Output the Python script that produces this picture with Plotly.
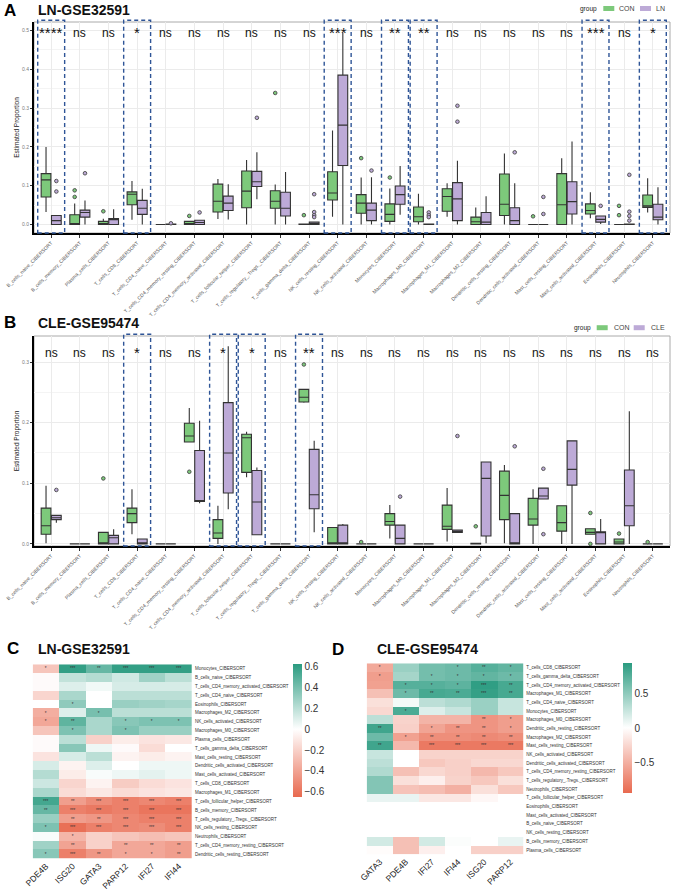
import plotly.graph_objects as go

W, H = 673, 890
FONT = "Liberation Sans, Arial, sans-serif"

# ---------------- data ----------------
CELLS = ["B_cells_naive", "B_cells_memory", "Plasma_cells", "T_cells_CD8", "T_cells_CD4_naive",
         "T_cells_CD4_memory_resting", "T_cells_CD4_memory_activated", "T_cells_follicular_helper",
         "T_cells_regulatory_.Tregs.", "T_cells_gamma_delta", "NK_cells_resting", "NK_cells_activated",
         "Monocytes", "Macrophages_M0", "Macrophages_M1", "Macrophages_M2", "Dendritic_cells_resting",
         "Dendritic_cells_activated", "Mast_cells_resting", "Mast_cells_activated", "Eosinophils",
         "Neutrophils"]
TICK_LABELS = [c + "_CIBERSORT" for c in CELLS]

# box statistics: [lowerfence, q1, median, q3, upperfence]
A_CON = [[0.032, 0.071, 0.115, 0.131, 0.200], [0.0, 0.0, 0.002, 0.025, 0.054], [0.0, 0.0, 0.002, 0.008, 0.015],
         [0.012, 0.051, 0.078, 0.084, 0.112], [0, 0, 0, 0, 0], [0.0, 0.0, 0.002, 0.008, 0.008],
         [0.014, 0.032, 0.060, 0.104, 0.117], [0.0, 0.043, 0.086, 0.138, 0.166], [0.0, 0.042, 0.060, 0.087, 0.103],
         [0, 0, 0, 0.001, 0.001], [0.020, 0.063, 0.081, 0.136, 0.242], [0.0, 0.029, 0.055, 0.077, 0.121],
         [0.0, 0.008, 0.026, 0.053, 0.093], [0.0, 0.007, 0.020, 0.045, 0.079], [0.020, 0.034, 0.072, 0.092, 0.106],
         [0.0, 0.0, 0.007, 0.019, 0.044], [0.0, 0.023, 0.052, 0.130, 0.183], [0, 0, 0, 0, 0],
         [0.0, 0.0, 0.051, 0.131, 0.171], [0.016, 0.027, 0.036, 0.053, 0.083], [0, 0, 0, 0, 0],
         [0.031, 0.044, 0.048, 0.076, 0.119]]
A_LN = [[0.0, 0.0, 0.010, 0.023, 0.023], [0.0, 0.019, 0.031, 0.037, 0.062], [0.0, 0.0, 0.013, 0.015, 0.039],
        [0.0, 0.026, 0.042, 0.062, 0.092], [0, 0, 0, 0.001, 0.001], [0.0, 0.0, 0.005, 0.011, 0.011],
        [0.013, 0.036, 0.055, 0.073, 0.104], [0.065, 0.098, 0.110, 0.137, 0.186], [0.0, 0.022, 0.042, 0.083, 0.135],
        [0.0, 0.0, 0.001, 0.006, 0.006], [0.0, 0.152, 0.256, 0.385, 0.494], [0.0, 0.010, 0.037, 0.055, 0.122],
        [0.025, 0.052, 0.077, 0.099, 0.151], [0, 0, 0, 0.001, 0.001], [0.0, 0.010, 0.066, 0.108, 0.164],
        [0.0, 0.0, 0.006, 0.031, 0.073], [0.0, 0.0, 0.010, 0.043, 0.106], [0, 0, 0, 0, 0],
        [0.0, 0.027, 0.059, 0.110, 0.214], [0.001, 0.006, 0.013, 0.022, 0.022], [0, 0, 0, 0.001, 0.001],
        [0.0, 0.012, 0.019, 0.052, 0.096]]
A_CON_OUT = {1: [0.088, 0.071], 2: [0.034], 5: [0.022], 8: [0.339], 9: [0.024], 11: [0.171],
             12: [0.121], 17: [0.021], 20: [0.048, 0.024]}
A_LN_OUT = {0: [0.112, 0.085], 1: [0.132], 4: [0.003], 5: [0.031], 7: [0.275], 9: [0.078, 0.032, 0.024, 0.019],
            11: [0.139], 13: [0.031, 0.024, 0.019], 14: [0.306, 0.265], 16: [0.186], 17: [0.071, 0.027],
            19: [0.048], 20: [0.128, 0.033, 0.022, 0.010]}
A_SIG = ["****", "ns", "ns", "*", "ns", "ns", "ns", "ns", "ns", "ns", "***", "ns", "**", "**", "ns", "ns",
         "ns", "ns", "ns", "***", "ns", "*"]

B_CON = [[0.001, 0.016, 0.030, 0.059, 0.096], [0, 0, 0, 0, 0], [0.0, 0.0, 0.001, 0.019, 0.019],
         [0.016, 0.035, 0.050, 0.059, 0.090], [0, 0, 0, 0, 0], [0.168, 0.168, 0.178, 0.199, 0.224],
         [0.0, 0.009, 0.018, 0.040, 0.063], [0.110, 0.118, 0.175, 0.181, 0.185], [0, 0, 0, 0, 0],
         [0.233, 0.234, 0.242, 0.255, 0.255], [0.0, 0.0, 0.0, 0.027, 0.027], [0, 0, 0, 0, 0],
         [0.009, 0.031, 0.037, 0.050, 0.064], [0, 0, 0, 0, 0], [0.004, 0.024, 0.029, 0.064, 0.092],
         [0, 0, 0, 0.001, 0.001], [0.001, 0.040, 0.080, 0.120, 0.130], [0.0, 0.031, 0.041, 0.075, 0.090],
         [0.0, 0.021, 0.035, 0.063, 0.063], [0.016, 0.016, 0.019, 0.025, 0.025], [0.0, 0.0, 0.003, 0.008, 0.008],
         [0, 0, 0, 0, 0]]
B_CLE = [[0.035, 0.040, 0.043, 0.047, 0.047], [0, 0, 0, 0, 0], [0.0, 0.0, 0.010, 0.014, 0.024],
         [0.0, 0.0, 0.001, 0.008, 0.008], [0, 0, 0, 0, 0], [0.067, 0.070, 0.070, 0.154, 0.203],
         [0.057, 0.084, 0.150, 0.233, 0.326], [0.015, 0.015, 0.069, 0.121, 0.126], [0, 0, 0, 0, 0],
         [0.019, 0.058, 0.081, 0.156, 0.170], [0.0, 0.0, 0.0, 0.031, 0.033], [0, 0, 0, 0, 0],
         [0.0, 0.0, 0.009, 0.031, 0.031], [0, 0, 0, 0, 0], [0.018, 0.019, 0.020, 0.023, 0.023],
         [0.001, 0.013, 0.108, 0.135, 0.135], [0.0, 0.0, 0.0, 0.050, 0.050], [0.074, 0.074, 0.079, 0.092, 0.092],
         [0.0, 0.097, 0.123, 0.170, 0.170], [0.0, 0.0, 0.019, 0.020, 0.041], [0.0, 0.030, 0.063, 0.122, 0.219],
         [0, 0, 0, 0, 0]]
B_CON_OUT = {2: [0.108], 5: [0.119], 9: [0.296], 11: [0.003], 15: [0.029], 19: [0.051, 0.0], 20: [0.017],
             21: [0.003]}
B_CLE_OUT = {0: [0.089], 12: [0.078], 14: [0.178], 16: [0.161], 17: [0.124, 0.016]}
B_SIG = ["ns", "ns", "ns", "*", "ns", "ns", "*", "*", "ns", "**", "ns", "ns", "ns", "ns", "ns", "ns",
         "ns", "ns", "ns", "ns", "ns", "ns"]

# heatmap C
C_GENES = ["PDE4B", "ISG20", "GATA3", "PARP12", "IFI27", "IFI44"]
C_ROWS = ["Monocytes", "B_cells_naive", "T_cells_CD4_memory_activated", "T_cells_CD4_naive", "Eosinophils",
          "Macrophages_M2", "NK_cells_activated", "Macrophages_M0", "Plasma_cells", "T_cells_gamma_delta",
          "Mast_cells_resting", "Dendritic_cells_activated", "Mast_cells_activated", "T_cells_CD8",
          "Macrophages_M1", "T_cells_follicular_helper", "B_cells_memory", "T_cells_regulatory_.Tregs.",
          "NK_cells_resting", "Neutrophils", "T_cells_CD4_memory_resting", "Dendritic_cells_resting"]
C_VALUES = [[-0.25, 0.60, 0.45, 0.60, 0.60, 0.60],
            [-0.02, 0.18, 0.22, 0.14, 0.28, 0.20],
            [-0.02, 0.10, 0.04, 0.12, 0.12, 0.12],
            [-0.18, 0.25, 0.00, 0.20, 0.20, 0.20],
            [0.00, 0.33, 0.00, 0.30, 0.28, 0.26],
            [-0.35, 0.10, 0.40, 0.20, 0.20, 0.20],
            [-0.38, 0.47, 0.25, 0.35, 0.38, 0.38],
            [-0.25, 0.38, 0.25, 0.38, 0.30, 0.30],
            [-0.02, 0.20, -0.20, -0.08, -0.12, -0.10],
            [-0.02, 0.35, 0.05, -0.02, -0.15, 0.00],
            [-0.12, 0.12, 0.20, -0.05, -0.08, -0.05],
            [0.12, -0.05, 0.10, 0.00, 0.05, 0.05],
            [0.22, -0.08, 0.02, 0.05, 0.08, 0.05],
            [0.15, -0.18, -0.05, -0.22, -0.15, -0.12],
            [0.25, -0.15, -0.10, -0.15, -0.12, -0.10],
            [0.55, -0.42, -0.50, -0.55, -0.52, -0.55],
            [0.45, -0.55, -0.58, -0.55, -0.60, -0.60],
            [0.30, -0.42, -0.45, -0.52, -0.55, -0.55],
            [0.38, -0.62, -0.55, -0.52, -0.50, -0.55],
            [0.02, -0.32, -0.20, -0.25, -0.28, -0.25],
            [0.28, -0.40, -0.20, -0.38, -0.38, -0.42],
            [0.35, -0.55, -0.45, -0.38, -0.38, -0.42]]
C_STARS = [["*", "***", "**", "***", "***", "***"],
           ["", "", "", "", "", ""],
           ["", "", "", "", "", ""],
           ["", "", "", "", "", ""],
           ["", "*", "", "", "", ""],
           ["*", "", "*", "", "", ""],
           ["*", "**", "", "*", "*", "*"],
           ["", "*", "", "*", "", ""],
           ["", "", "", "", "", ""],
           ["", "", "", "", "", ""],
           ["", "", "", "", "", ""],
           ["", "", "", "", "", ""],
           ["", "", "", "", "", ""],
           ["", "", "", "", "", ""],
           ["", "", "", "", "", ""],
           ["***", "**", "***", "***", "***", "***"],
           ["**", "***", "***", "***", "***", "***"],
           ["", "**", "**", "***", "***", "***"],
           ["*", "***", "***", "***", "***", "***"],
           ["", "*", "", "", "", ""],
           ["", "**", "", "**", "**", "**"],
           ["*", "***", "**", "*", "*", "**"]]

# heatmap D
D_GENES = ["GATA3", "PDE4B", "IFI27", "IFI44", "ISG20", "PARP12"]
D_ROWS = ["T_cells_CD8", "T_cells_gamma_delta", "T_cells_CD4_memory_activated", "Macrophages_M1",
          "T_cells_CD4_naive", "Monocytes", "Macrophages_M0", "Dendritic_cells_resting", "Macrophages_M2",
          "Mast_cells_resting", "NK_cells_activated", "Dendritic_cells_activated", "T_cells_CD4_memory_resting",
          "T_cells_regulatory_.Tregs.", "Neutrophils", "T_cells_follicular_helper", "Eosinophils",
          "Mast_cells_activated", "B_cells_naive", "NK_cells_resting", "B_cells_memory", "Plasma_cells"]
D_VALUES = [[-0.55, 0.45, 0.62, 0.65, 0.75, 0.70],
            [-0.62, 0.40, 0.62, 0.65, 0.70, 0.65],
            [-0.60, 0.75, 0.75, 0.72, 0.92, 0.82],
            [-0.40, 0.65, 0.82, 0.80, 0.90, 0.82],
            [-0.20, 0.05, 0.30, 0.35, 0.45, 0.25],
            [-0.25, 0.80, 0.15, 0.25, 0.45, 0.25],
            [0.30, -0.28, -0.48, -0.48, -0.68, -0.62],
            [0.85, -0.30, -0.58, -0.68, -0.68, -0.62],
            [0.65, -0.60, -0.72, -0.72, -0.75, -0.72],
            [0.85, -0.45, -0.85, -0.85, -0.85, -0.85],
            [0.25, 0.00, -0.28, -0.28, -0.28, -0.28],
            [0.30, 0.00, -0.35, -0.30, -0.25, -0.25],
            [0.35, -0.40, -0.25, -0.30, -0.45, -0.35],
            [0.55, -0.20, -0.10, -0.28, -0.35, -0.20],
            [0.55, -0.38, -0.42, -0.50, -0.20, -0.35],
            [0.10, 0.10, -0.15, -0.15, -0.05, 0.00],
            [None, None, None, None, None, None],
            [None, None, None, None, None, None],
            [None, None, None, None, None, None],
            [None, None, None, None, None, None],
            [0.20, -0.40, 0.20, 0.02, 0.00, 0.10],
            [-0.02, -0.40, -0.10, 0.00, -0.30, -0.30]]
D_STARS = [["*", "", "", "*", "**", "*"],
           ["*", "", "*", "*", "*", "*"],
           ["", "*", "*", "*", "***", "**"],
           ["", "*", "**", "**", "***", "**"],
           ["", "", "", "", "", ""],
           ["", "*", "", "", "", ""],
           ["", "", "", "", "**", "*"],
           ["**", "", "*", "**", "**", "*"],
           ["", "*", "**", "**", "**", "**"],
           ["**", "", "***", "***", "***", "***"]] + [["", "", "", "", "", ""] for _ in range(12)]

# ---------------- styling ----------------
COL_CON = "#7DC97B"
COL_LN = "#BDAAD7"
EDGE = "#333333"
DASH_BLUE = "#2F5597"
LOW, HIGH = "#E8694F", "#2A9B80"
OFFSET = 0.18
BOXW = 0.34


def px_x(x):
    return x / W


def px_y(y):
    return 1 - y / H


fig = go.Figure()


def add_box_panel(xa, ya, con, other, con_out, other_out):
    for stats, outs, col, sgn in [(con, con_out, COL_CON, -1), (other, other_out, COL_LN, 1)]:
        xs = [i + sgn * OFFSET for i in range(len(CELLS))]
        fig.add_trace(go.Box(
            x=xs, lowerfence=[s[0] for s in stats], q1=[s[1] for s in stats],
            median=[s[2] for s in stats], q3=[s[3] for s in stats], upperfence=[s[4] for s in stats],
            width=BOXW, fillcolor=col, line=dict(color=EDGE, width=1.1), whiskerwidth=0,
            boxpoints=False, xaxis=xa, yaxis=ya, showlegend=False, hoverinfo="skip"))
        ox, oy = [], []
        for i, vals in outs.items():
            for v in vals:
                ox.append(i + sgn * OFFSET)
                oy.append(v)
        fig.add_trace(go.Scatter(
            x=ox, y=oy, mode="markers", xaxis=xa, yaxis=ya, showlegend=False, hoverinfo="skip",
            marker=dict(size=3.6, color=col, line=dict(color="#4A4A4A", width=0.9))))


add_box_panel("x", "y", A_CON, A_LN, A_CON_OUT, A_LN_OUT)
add_box_panel("x2", "y2", B_CON, B_CLE, B_CON_OUT, B_CLE_OUT)


def scale(zmin, zmax):
    mid = (0 - zmin) / (zmax - zmin)
    return [[0, LOW], [mid, "#FFFFFF"], [1, HIGH]]


C_ZMIN, C_ZMAX = -0.65, 0.625
D_ZMIN, D_ZMAX = -0.955, 0.948

fig.add_trace(go.Heatmap(
    z=C_VALUES, x=C_GENES, y=[r + "_CIBERSORT" for r in C_ROWS], text=C_STARS, texttemplate="%{text}",
    textfont=dict(size=4.5, color="#333333", family=FONT), colorscale=scale(C_ZMIN, C_ZMAX),
    zmin=C_ZMIN, zmax=C_ZMAX, xaxis="x3", yaxis="y3", hoverinfo="skip",
    colorbar=dict(x=px_x(292.7), xanchor="left", y=px_y(730.5), yanchor="middle", len=133, lenmode="pixels",
                  thickness=9, thicknessmode="pixels", xpad=0, ypad=0, outlinewidth=0, ticks="",
                  tickvals=[-0.6, -0.4, -0.2, 0, 0.2, 0.4, 0.6],
                  tickfont=dict(size=10, color="#333333", family=FONT))))

fig.add_trace(go.Heatmap(
    z=D_VALUES, x=D_GENES, y=[r + "_CIBERSORT" for r in D_ROWS], text=D_STARS, texttemplate="%{text}",
    textfont=dict(size=4.5, color="#333333", family=FONT), colorscale=scale(D_ZMIN, D_ZMAX),
    zmin=D_ZMIN, zmax=D_ZMAX, xaxis="x4", yaxis="y4", hoverinfo="skip", hoverongaps=False,
    colorbar=dict(x=px_x(622.7), xanchor="left", y=px_y(728.3), yanchor="middle", len=130, lenmode="pixels",
                  thickness=9, thicknessmode="pixels", xpad=0, ypad=0, outlinewidth=0, ticks="",
                  tickvals=[-0.5, 0, 0.5],
                  tickfont=dict(size=10, color="#333333", family=FONT))))

# ---------------- axes ----------------
box_x = dict(domain=[px_x(34), px_x(670)], range=[-0.6, 21.6], tickmode="array",
             tickvals=list(range(len(CELLS))), ticktext=TICK_LABELS, tickangle=-45,
             tickfont=dict(size=5, color="#555555", family=FONT), showgrid=True, gridcolor="#EBEBEB",
             gridwidth=0.8, showline=True, linecolor="black", linewidth=2, ticks="outside", ticklen=3,
             tickcolor="#333333", zeroline=False, automargin=False)
box_y = dict(dtick=0.1, tickformat=".1f", tickfont=dict(size=5, color="#7A7A7A", family=FONT),
             showgrid=True, gridcolor="#EBEBEB", gridwidth=0.8,
             minor=dict(dtick=0.05, showgrid=True, gridcolor="#F4F4F4", gridwidth=0.6),
             showline=True, linecolor="black", linewidth=2, ticks="outside", ticklen=2, tickcolor="#333333",
             zeroline=False, automargin=False,
             title=dict(text="Estimated Proportion", font=dict(size=6.5, color="#222222", family=FONT), standoff=2))

heat_x = dict(showgrid=False, zeroline=False, showline=False, tickangle=-45,
              tickfont=dict(size=8.5, color="#222222", family=FONT), ticks="", automargin=False)
heat_y = dict(side="right", autorange="reversed", showgrid=False, zeroline=False, showline=False,
              ticks="outside", ticklen=1, tickcolor="rgba(0,0,0,0)",
              tickfont=dict(size=4.5, color="#333333", family=FONT), automargin=False)

fig.update_layout(
    xaxis=dict(box_x, anchor="y"),
    yaxis=dict(box_y, anchor="x", domain=[px_y(233), px_y(22)], range=[-0.022, 0.522]),
    xaxis2=dict(box_x, anchor="y2"),
    yaxis2=dict(box_y, anchor="x2", domain=[px_y(546), px_y(336)], range=[-0.0035, 0.343]),
    xaxis3=dict(heat_x, domain=[px_x(32.7), px_x(192)], anchor="y3"),
    yaxis3=dict(heat_y, domain=[px_y(858.7), px_y(664.3)], anchor="x3"),
    xaxis4=dict(heat_x, domain=[px_x(366.7), px_x(523.3)], anchor="y4"),
    yaxis4=dict(heat_y, domain=[px_y(854.3), px_y(663.3)], anchor="x4"),
    width=W, height=H, margin=dict(l=0, r=0, t=0, b=0),
    paper_bgcolor="white", plot_bgcolor="white", font=dict(family=FONT),
    showlegend=False,
)

shapes = []
annotations = []

# panel borders and significance markers
for xa, ya, sig, ylab in [("x", "y", A_SIG, 0.494), ("x2", "y2", B_SIG, 0.3155)]:
    shapes.append(dict(type="rect", xref=f"{xa} domain", yref=f"{ya} domain", x0=0, x1=1, y0=0, y1=1,
                       line=dict(color="#AAAAAA", width=1), layer="below"))
    for i, s in enumerate(sig):
        size = 12 if s == "ns" else 15
        annotations.append(dict(x=i, y=ylab, xref=xa, yref=ya, text=s, showarrow=False,
                                font=dict(size=size, color="#111111", family=FONT), yanchor="middle"))
        if s != "ns":
            shapes.append(dict(type="rect", xref=xa, yref=f"{ya} domain", x0=i - 0.47, x1=i + 0.47,
                               y0=0, y1=1.008, line=dict(color=DASH_BLUE, width=1.4, dash="4px,3px"),
                               layer="above"))

# panel letters and titles
for letter, title, lx, tx, ty in [("A", "LN-GSE32591", 1.5, 36, 10.5), ("B", "CLE-GSE95474", 1.5, 36, 322.5),
                                  ("C", "LN-GSE32591", 4.5, 36, 648.5), ("D", "CLE-GSE95474", 330, 375, 649)]:
    annotations.append(dict(x=px_x(lx), y=px_y(ty), xref="paper", yref="paper", text=f"<b>{letter}</b>",
                            showarrow=False, xanchor="left", yanchor="middle",
                            font=dict(size=17, color="black", family=FONT)))
    annotations.append(dict(x=px_x(tx), y=px_y(ty), xref="paper", yref="paper", text=f"<b>{title}</b>",
                            showarrow=False, xanchor="left", yanchor="middle",
                            font=dict(size=14, color="#111111", family=FONT)))

# legends
for gy, gx, k1, t1, k2, t2, lab2 in [(8.5, 577.5, 603.3, 617.3, 640, 654, "LN"),
                                     (327.7, 572.3, 596.7, 612.3, 633.7, 649, "CLE")]:
    annotations.append(dict(x=px_x(gx), y=px_y(gy), xref="paper", yref="paper", text="group", showarrow=False,
                            xanchor="left", yanchor="middle", font=dict(size=6.5, color="#222222", family=FONT)))
    for kx, tx, col, lab in [(k1, t1, COL_CON, "CON"), (k2, t2, COL_LN, lab2)]:
        shapes.append(dict(type="rect", xref="paper", yref="paper", x0=px_x(kx), x1=px_x(kx + 11),
                           y0=px_y(gy + 2.5), y1=px_y(gy - 2.5), line=dict(width=0), fillcolor=col))
        annotations.append(dict(x=px_x(tx), y=px_y(gy), xref="paper", yref="paper", text=lab, showarrow=False,
                                xanchor="left", yanchor="middle",
                                font=dict(size=7, color="#444444", family=FONT)))

fig.update_layout(shapes=shapes, annotations=annotations)
fig.write_html("out.html")
